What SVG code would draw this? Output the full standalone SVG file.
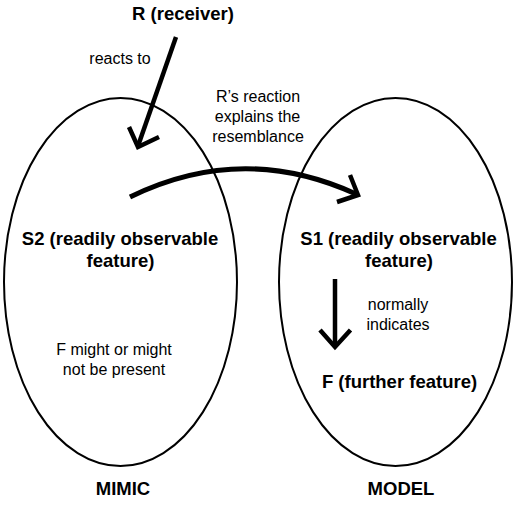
<svg xmlns="http://www.w3.org/2000/svg" width="517" height="507" viewBox="0 0 517 507">
<style>
  text { font-family: "Liberation Sans", Arial, sans-serif; fill: #000; text-anchor: middle; }
  .b { font-weight: bold; font-size: 18.5px; }
  .n { font-size: 16px; }
  .ell { fill: none; stroke: #000; stroke-width: 2; }
  .arr { fill: none; stroke: #000; stroke-width: 4.5; stroke-linecap: butt; stroke-linejoin: miter; }
</style>
<rect width="517" height="507" fill="#fff"/>
<g id="mimic">
  <ellipse class="ell" cx="120.5" cy="282" rx="116.5" ry="184"/>
  <text class="b" x="120" y="245">S2 (readily observable</text>
  <text class="b" x="120.5" y="267">feature)</text>
  <text class="n" x="114" y="355">F might or might</text>
  <text class="n" x="114" y="375">not be present</text>
  <text class="b" x="123" y="495">MIMIC</text>
</g>
<g id="model">
  <ellipse class="ell" cx="395.5" cy="282" rx="116.5" ry="184"/>
  <text class="b" x="398.5" y="245">S1 (readily observable</text>
  <text class="b" x="399" y="267">feature)</text>
  <text class="b" x="399.5" y="388">F (further feature)</text>
  <text class="b" x="401" y="495">MODEL</text>
</g>
<g id="receiver">
  <text class="b" x="183" y="20">R (receiver)</text>
</g>
<g id="connectors">
  <line class="arr" x1="176" y1="37" x2="138" y2="146"/>
  <polyline class="arr" points="129,127 138,147 159,137"/>
  <text class="n" x="120" y="64">reacts to</text>
  <path class="arr" d="M130,197 Q242,142 356,194" style="stroke-width:5"/>
  <polyline class="arr" points="350,175 358,195 337,202"/>
  <text class="n" x="258" y="102">R’s reaction</text>
  <text class="n" x="257.5" y="122">explains the</text>
  <text class="n" x="258" y="142">resemblance</text>
  <line class="arr" x1="335" y1="279" x2="335" y2="346"/>
  <polyline class="arr" points="320,330 335,347 350.5,330"/>
  <text class="n" x="398" y="310">normally</text>
  <text class="n" x="398" y="330">indicates</text>
</g>
</svg>
